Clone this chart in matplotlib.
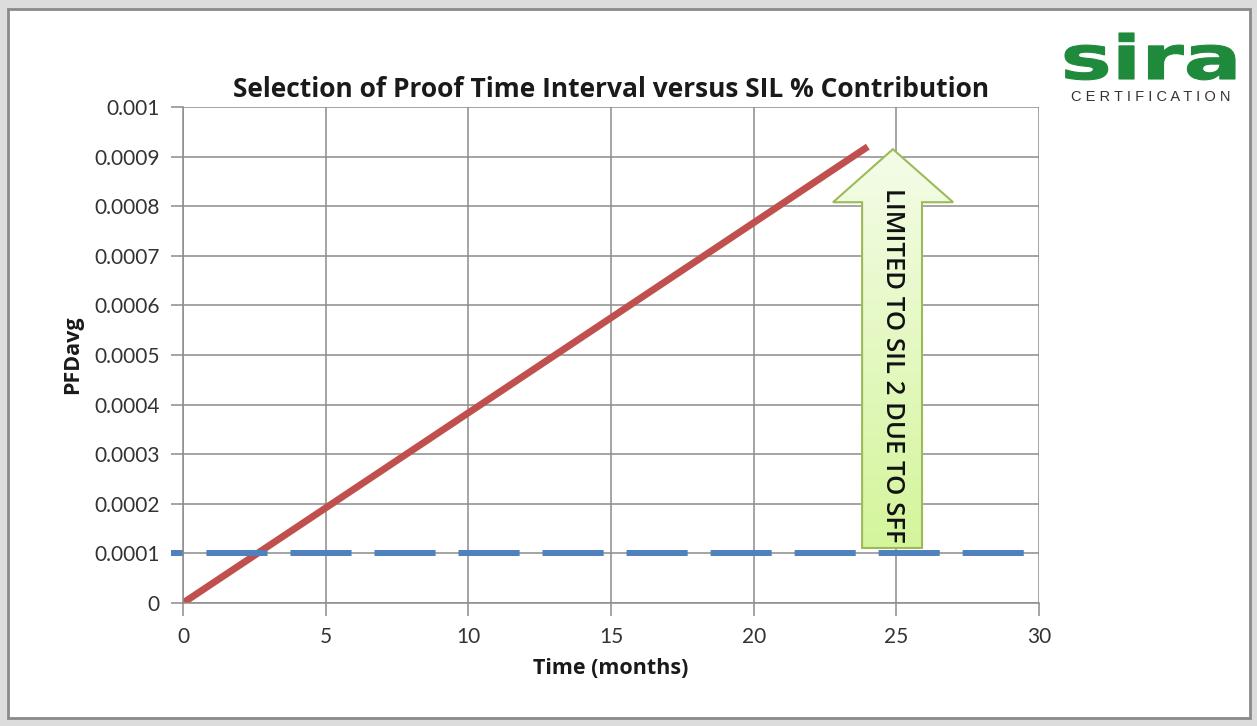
import numpy as np
import matplotlib.pyplot as plt
from matplotlib.patches import Polygon, Rectangle, PathPatch
from matplotlib.colors import LinearSegmentedColormap
from matplotlib.textpath import TextPath
from matplotlib.font_manager import FontProperties
from matplotlib.transforms import Affine2D

# data
time_months = [0, 6, 12, 18, 24]
pfd_avg = [0, 0.00023, 0.00046, 0.00069, 0.00092]
sil_x = [-0.42, 29.6]
sil_limit = [0.0001, 0.0001]
x_ticks = [0, 5, 10, 15, 20, 25, 30]
y_ticks = [0, 0.0001, 0.0002, 0.0003, 0.0004, 0.0005, 0.0006, 0.0007, 0.0008, 0.0009, 0.001]
y_labels = ['0', '0.0001', '0.0002', '0.0003', '0.0004', '0.0005', '0.0006',
            '0.0007', '0.0008', '0.0009', '0.001']

plt.rcParams['font.family'] = ['Lato', 'DejaVu Sans']
plt.rcParams['lines.scale_dashes'] = False
bold_font = ['Open Sans', 'DejaVu Sans']

W, H = 1257, 726
fig = plt.figure(figsize=(W / 100, H / 100), dpi=100, facecolor='#dcdcdc')

# white slide-like frame
fig.patches.append(Rectangle((8 / W, 1 - 718 / H), (1250 - 8) / W, (718 - 9) / H,
                             transform=fig.transFigure, facecolor='white',
                             edgecolor='#8a8a8a', linewidth=2, zorder=-10))

ax = fig.add_axes([183 / W, 1 - 603 / H, (1039 - 183) / W, (603 - 107) / H])
ax.patch.set_alpha(0)
ax.set_xlim(0, 30)
ax.set_ylim(0, 0.001)
ax.set_xticks(x_ticks)
ax.set_yticks(y_ticks)
ax.set_yticklabels(y_labels)
ax.grid(True, color='#8c8c8c', linewidth=1.1)
ax.set_axisbelow(True)
for s in ['top', 'right']:
    ax.spines[s].set_visible(False)
for s in ['left', 'bottom']:
    ax.spines[s].set_color('#8c8c8c')
    ax.spines[s].set_linewidth(1.1)
ax.tick_params(axis='both', direction='out', length=9, width=1.1, color='#8c8c8c',
               labelsize=15, labelcolor='#333333', pad=8)

ax.plot(time_months, pfd_avg, color='#c0504d', linewidth=5, solid_capstyle='butt')
ax.plot(sil_x, sil_limit, color='#4f81bd', linewidth=4.3,
        linestyle=(35, (44, 16.5)), dash_capstyle='butt', clip_on=False)

ax.set_title('Selection of Proof Time Interval versus SIL % Contribution',
             fontsize=19, fontweight='bold', color='#1a1a1a', pad=7, family=bold_font)
ax.set_xlabel('Time (months)', fontsize=15.5, fontweight='bold', color='#1a1a1a',
              labelpad=8, family=bold_font)
ax.set_ylabel('PFDavg', fontsize=15.5, fontweight='bold', color='#1a1a1a',
              labelpad=8, family=bold_font)

# green block arrow
bx0, bx1 = 23.8, 25.9
hx0, hx1 = 22.78, 26.99
tip_x, tip_y = 24.88, 0.000915
head_base, bottom = 0.000808, 0.000111
pts = [(bx0, bottom), (bx1, bottom), (bx1, head_base), (hx1, head_base),
       (tip_x, tip_y), (hx0, head_base), (bx0, head_base)]
arrow = Polygon(pts, closed=True, facecolor='none', edgecolor='#9bbb59',
                linewidth=1.5, zorder=5)
ax.add_patch(arrow)
grad = np.linspace(0, 1, 256).reshape(-1, 1)
cmap = LinearSegmentedColormap.from_list('g', ['#d4f59b', '#f4fce8'])
im = ax.imshow(grad, extent=(hx0, hx1, bottom, tip_y), origin='lower', cmap=cmap,
               aspect='auto', zorder=4)
im.set_clip_path(arrow)
ax.set_xlim(0, 30)
ax.set_ylim(0, 0.001)
ax.text((bx0 + bx1) / 2, (head_base + bottom) / 2 + 0.00002, 'LIMITED TO SIL 2 DUE TO SFF',
        rotation=-90, ha='center', va='center', fontsize=18.5, fontweight='semibold',
        color='#111111', zorder=6, family=bold_font)

# logo: wide heavy "sira" fitted into its box (pixels, top-left origin)
tp = TextPath((0, 0), 'sira', size=10, prop=FontProperties(family='DejaVu Sans', weight='bold'))
ext = tp.get_extents()
lx0, lx1, ly_top, ly_base = 1065, 1235, 33, 79
sx = (lx1 - lx0) / ext.width
sy = (ly_base - ly_top) / ext.y1
logo_tr = (Affine2D().translate(-ext.x0, 0).scale(sx, sy)
           .translate(lx0, H - ly_base).scale(1 / W, 1 / H) + fig.transFigure)
fig.patches.append(PathPatch(tp, transform=logo_tr, facecolor='#1f8a3b',
                             edgecolor='#1f8a3b', linewidth=0.8))
fig.text(1151 / W, 1 - 97 / H, 'C E R T I F I C A T I O N', ha='center', va='center',
         fontsize=10.5, color='#333333', family=['Liberation Sans', 'DejaVu Sans'])

fig.savefig('out.png', dpi=100, facecolor=fig.get_facecolor())
